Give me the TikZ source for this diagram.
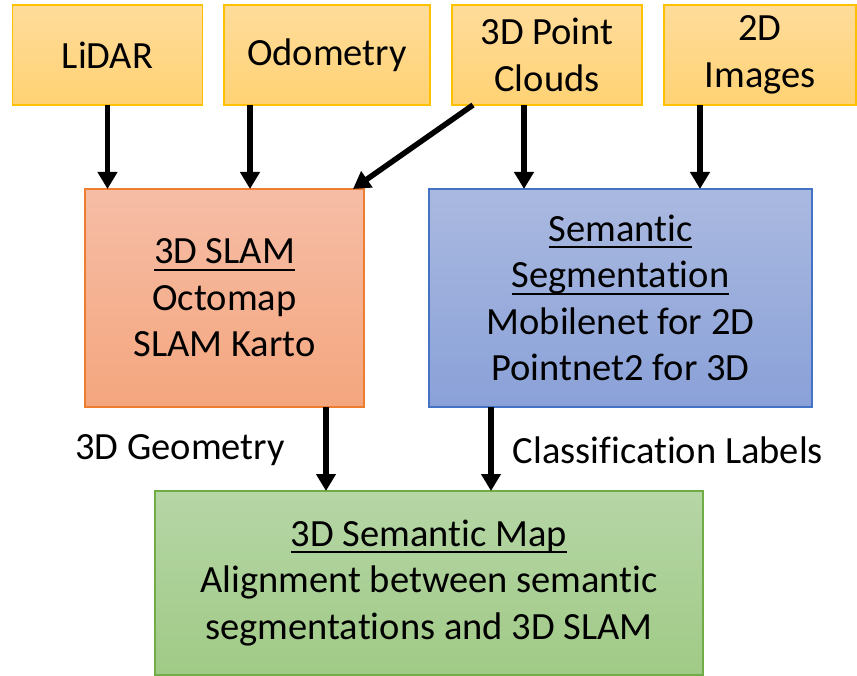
\documentclass[tikz,border=0pt]{standalone}
\usepackage{fontspec}
\setmainfont[Ligatures={NoCommon}]{Carlito}
\usetikzlibrary{arrows.meta}

\definecolor{inborder}{HTML}{FFC000}
\definecolor{slamborder}{HTML}{ED7D31}
\definecolor{segborder}{HTML}{4472C4}
\definecolor{mapborder}{HTML}{70AD47}

\newcommand{\headline}[1]{\setbox0=\hbox{#1}\leavevmode\rlap{\rule[-7pt]{\wd0}{2pt}}\box0}

\begin{document}
\begin{tikzpicture}[x=1pt, y=-1pt,
  every node/.style={font=\fontsize{38.5}{46.5}\selectfont, align=center},
  box/.style={rectangle, inner sep=0pt, outer sep=0pt, line width=1.5pt},
  inbox/.style={box, draw=inborder, top color={rgb,255:red,255;green,220;blue,155}, bottom color={rgb,255:red,255;green,210;blue,115}},
  arr/.style={-{Triangle[width=19pt,length=17pt]}, line width=5.5pt}]
  \useasboundingbox (0,0) rectangle (857,676);
  % inputs
  \node [inbox, minimum width=190pt, minimum height=100pt] (lidar) at (107.5, 55) {LiDAR};
  \node [inbox, minimum width=206pt, minimum height=100pt] (odom) at (327, 55) {Odometry};
  \node [inbox, minimum width=190pt, minimum height=100pt] (pcloud) at (547, 55) {3D Point\\Clouds};
  \node [inbox, minimum width=192pt, minimum height=100pt] (images) at (760, 55) {2D\\Images};
  % processing
  \node [box, draw=slamborder, top color={rgb,255:red,246;green,189;blue,166}, bottom color={rgb,255:red,244;green,166;blue,126},
    minimum width=279pt, minimum height=218pt] (slam) at (224.5, 298) {\headline{3D SLAM}\\Octomap\\SLAM Karto};
  \node [box, draw=segborder, top color={rgb,255:red,170;green,185;blue,224}, bottom color={rgb,255:red,138;green,161;blue,216},
    minimum width=383pt, minimum height=218pt] (seg) at (620.5, 298) {\headline{Semantic}\\\headline{Segmentation}\\Mobilenet for 2D\\Pointnet2 for 3D};
  % output
  \node [box, draw=mapborder, top color={rgb,255:red,182;green,214;blue,166}, bottom color={rgb,255:red,160;green,202;blue,134},
    minimum width=548pt, minimum height=184pt] (semmap) at (429, 583) {\headline{3D Semantic Map}\\Alignment between semantic\\segmentations and 3D SLAM};
  \draw [arr] (lidar.south) -- (lidar.south |- slam.north);
  \draw [arr] ([xshift=-77pt]odom.south) -- ([xshift=-77pt]odom.south |- slam.north);
  \draw [arr] ([xshift=21pt]pcloud.south west) -- ([xshift=-11pt]slam.north east);
  \draw [arr] ([xshift=-23pt]pcloud.south) -- ([xshift=-23pt]pcloud.south |- seg.north);
  \draw [arr] ([xshift=-60pt]images.south) -- ([xshift=-60pt]images.south |- seg.north);
  \draw [arr] ([xshift=101.5pt]slam.south) -- ([xshift=101.5pt]slam.south |- semmap.north);
  \draw [arr] ([xshift=-129.5pt]seg.south) -- ([xshift=-129.5pt]seg.south |- semmap.north);
  \node (geom) at (180, 450) {3D Geometry};
  \node (labels) at (668, 450) {Classification Labels};
\end{tikzpicture}
\end{document}
